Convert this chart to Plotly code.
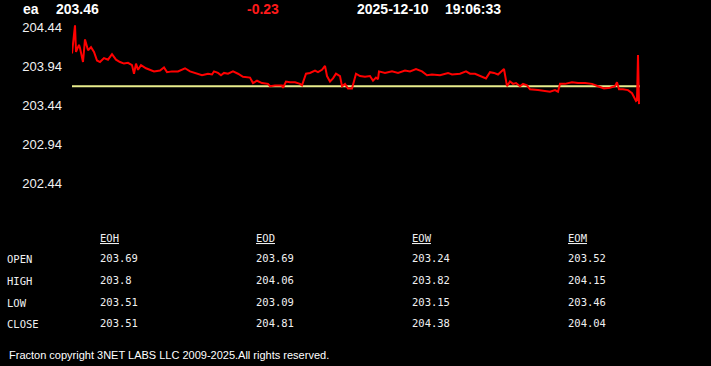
import plotly.graph_objects as go

# ---- data ----
symbol = "ea"
last_price = "203.46"
change = "-0.23"
date_str = "2025-12-10"
time_str = "19:06:33"
prev_close = 203.69

t = [0, 3, 4, 7, 8, 11, 13, 16, 19, 22, 25, 28, 32, 36, 40, 44, 48, 52, 56, 60,
     62, 64, 66, 69, 74, 78, 82, 88, 92, 95, 100, 106, 113, 118, 124, 130, 136, 140,
     142, 146, 149, 152, 156, 161, 166, 171, 178, 181, 185, 190, 196, 198, 203, 210,
     211, 214, 218, 223, 228, 230, 234, 238, 243, 246, 250, 253, 255, 258, 261, 264,
     268, 270, 273, 276, 280, 284, 288, 293, 298, 301, 304, 306, 307, 313, 320, 326,
     333, 338, 344, 350, 355, 360, 368, 376, 380, 388, 394, 398, 403, 408, 414, 418,
     422, 426, 430, 432, 435, 438, 441, 444, 448, 451, 455, 458, 466, 473, 478, 483,
     486, 488, 493, 500, 506, 513, 520, 526, 532, 538, 543, 545, 547, 551, 556, 560,
     562, 564, 565, 566, 567]
price = [204.11, 204.47, 204.13, 204.22, 204.18, 204.00, 204.29, 204.15, 204.19, 204.13,
         204.02, 204.00, 204.05, 204.03, 204.10, 204.03, 204.00, 203.98, 203.99, 203.96,
         203.85, 203.98, 203.90, 203.96, 203.92, 203.90, 203.88, 203.89, 203.93, 203.87,
         203.88, 203.88, 203.92, 203.88, 203.85, 203.83, 203.85, 203.84, 203.88, 203.86,
         203.83, 203.86, 203.85, 203.88, 203.85, 203.81, 203.80, 203.73, 203.76, 203.73,
         203.72, 203.69, 203.70, 203.70, 203.67, 203.75, 203.74, 203.74, 203.72, 203.70,
         203.85, 203.86, 203.89, 203.87, 203.90, 203.95, 203.82, 203.75, 203.79, 203.85,
         203.82, 203.69, 203.72, 203.66, 203.66, 203.85, 203.82, 203.81, 203.82, 203.76,
         203.80, 203.78, 203.88, 203.86, 203.88, 203.86, 203.89, 203.88, 203.91, 203.88,
         203.83, 203.84, 203.83, 203.86, 203.84, 203.85, 203.88, 203.85, 203.85, 203.82,
         203.79, 203.87, 203.86, 203.84, 203.88, 203.91, 203.69, 203.75, 203.72, 203.73,
         203.69, 203.72, 203.70, 203.65, 203.64, 203.63, 203.62, 203.64, 203.62, 203.72,
         203.72, 203.74, 203.73, 203.73, 203.72, 203.69, 203.66, 203.67, 203.69, 203.74,
         203.65, 203.65, 203.64, 203.60, 203.54, 203.50, 203.51, 204.09, 203.46]

y_ticks = [202.44, 202.94, 203.44, 203.94, 204.44]

row_labels = ["OPEN", "HIGH", "LOW", "CLOSE"]
col_labels = ["EOH", "EOD", "EOW", "EOM"]
table_values = {
    "EOH": ["203.69", "203.8", "203.51", "203.51"],
    "EOD": ["203.69", "204.06", "203.09", "204.81"],
    "EOW": ["203.24", "203.82", "203.15", "204.38"],
    "EOM": ["203.52", "204.15", "203.46", "204.04"],
}
copyright_text = "Fracton copyright 3NET LABS LLC 2009-2025.All rights reserved."

# ---- layout geometry (pixels) ----
W, H = 711, 366
L, R, T, B = 72, 71, 20, 166
PW, PH = W - L - R, H - T - B


def px(x):
    return (x - L) / PW


def py(y):
    return (H - B - y) / PH


fig = go.Figure()
fig.add_trace(go.Scatter(x=[t[0], 568], y=[prev_close, prev_close], mode="lines",
                         line=dict(color="#e8ec8c", width=2), hoverinfo="skip"))
fig.add_trace(go.Scatter(x=t, y=price, mode="lines",
                         line=dict(color="#ff0000", width=2)))

ann = []
hdr_font = dict(family="Liberation Sans, Arial", size=14, color="white")
ann.append(dict(x=px(23), y=py(9), text="<b>%s</b>" % symbol, font=hdr_font))
ann.append(dict(x=px(56), y=py(9), text="<b>%s</b>" % last_price, font=hdr_font))
ann.append(dict(x=px(247), y=py(9), text="<b>%s</b>" % change,
                font=dict(family="Liberation Sans, Arial", size=14, color="#ff1a1a")))
ann.append(dict(x=px(357), y=py(9), text="<b>%s</b>" % date_str, font=hdr_font))
ann.append(dict(x=px(445), y=py(9), text="<b>%s</b>" % time_str, font=hdr_font))

mono = dict(family="DejaVu Sans Mono, monospace", size=10.5, color="#f0f0f0")
col_x = [100, 256, 412, 568]
row_y = [259, 281, 303, 324]
for cx, c in zip(col_x, col_labels):
    ann.append(dict(x=px(cx), y=py(238), text="<u>%s</u>" % c, font=mono))
    for ry, v in zip(row_y, table_values[c]):
        ann.append(dict(x=px(cx), y=py(ry - 1), text=v, font=mono))
for ry, r in zip(row_y, row_labels):
    ann.append(dict(x=px(7), y=py(ry), text=r, font=mono))

ann.append(dict(x=px(9), y=py(355), text=copyright_text,
                font=dict(family="Liberation Sans, Arial", size=11, color="white")))

for a in ann:
    a.update(xref="paper", yref="paper", xanchor="left", yanchor="middle",
             showarrow=False, borderpad=0, borderwidth=0)

ymax = 203.94 + (66.7 - T) / 78
ymin = ymax - PH / 78

fig.update_layout(
    width=W, height=H,
    margin=dict(l=L, r=R, t=T, b=B),
    paper_bgcolor="black", plot_bgcolor="black",
    showlegend=False,
    annotations=ann,
    xaxis=dict(range=[0, 568], visible=False, showgrid=False, zeroline=False),
    yaxis=dict(range=[ymin, ymax], tickvals=y_ticks,
               ticktext=["%.2f" % v for v in y_ticks],
               showgrid=False, zeroline=False, showline=False, ticks="",
               ticklabelstandoff=9,
               tickfont=dict(family="Liberation Sans, Arial", size=13, color="#f2f2f2")),
)

fig.write_html("out.html")
